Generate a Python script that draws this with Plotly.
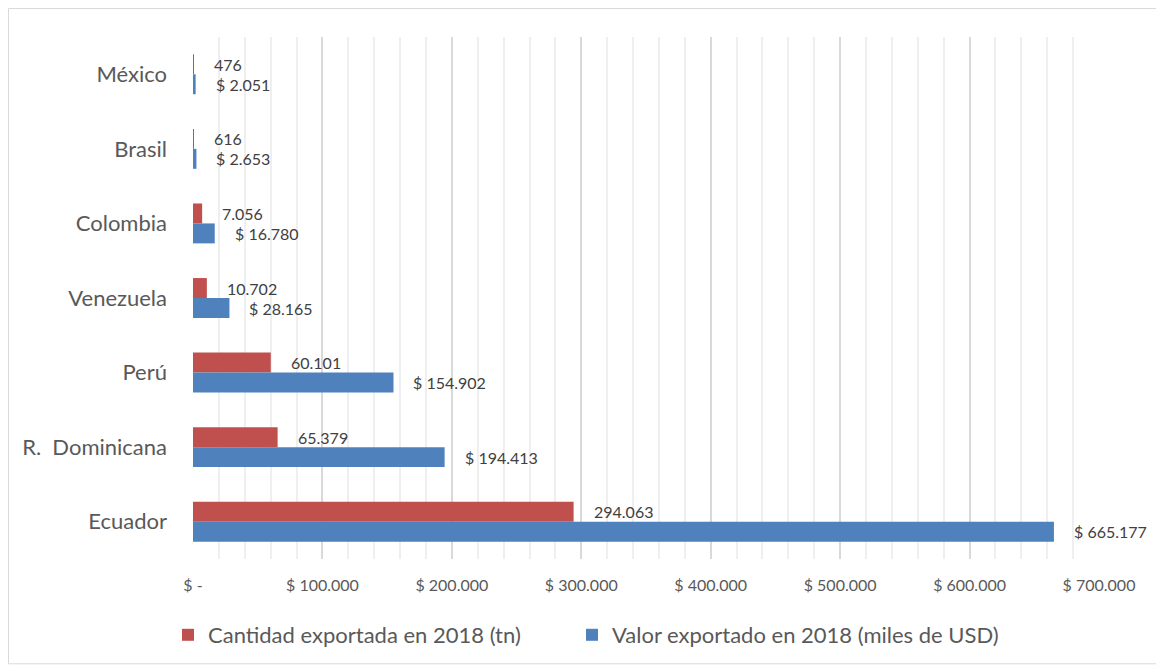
import plotly.graph_objects as go

categories = ["México", "Brasil", "Colombia", "Venezuela", "Perú", "R.  Dominicana", "Ecuador"]
cantidad_tn = [476, 616, 7056, 10702, 60101, 65379, 294063]
valor_usd = [2051, 2653, 16780, 28165, 154902, 194413, 665177]
tick_values = [0, 100000, 200000, 300000, 400000, 500000, 600000, 700000]
tick_labels = ["$ -", "$ 100.000", "$ 200.000", "$ 300.000", "$ 400.000",
               "$ 500.000", "$ 600.000", "$ 700.000"]
series_names = ["Cantidad exportada en 2018 (tn)", "Valor exportado en 2018 (miles de USD)"]

RED = "#C0504D"
BLUE = "#4F81BD"
FONT = "Lato, Open Sans, sans-serif"


def fmt(v):
    return f"{v:,}".replace(",", ".")


fig = go.Figure()
fig.add_trace(go.Bar(y=categories, x=cantidad_tn, orientation="h", name=series_names[0],
                     marker=dict(color=RED, line=dict(width=0)), legend="legend"))
fig.add_trace(go.Bar(y=categories, x=valor_usd, orientation="h", name=series_names[1],
                     marker=dict(color=BLUE, line=dict(width=0)), legend="legend2"))

annotations = []
for c, v in zip(categories, cantidad_tn):
    annotations.append(dict(x=v, y=c, xref="x", yref="y", text=fmt(v), showarrow=False,
                            xanchor="left", yanchor="middle", xshift=18, yshift=10,
                            font=dict(family=FONT, size=16, color="#404040")))
for c, v in zip(categories, valor_usd):
    annotations.append(dict(x=v, y=c, xref="x", yref="y", text="$ " + fmt(v), showarrow=False,
                            xanchor="left", yanchor="middle", xshift=18, yshift=-10,
                            font=dict(family=FONT, size=16, color="#404040")))

# page body has an 8px margin; figure coordinates below are local to the figure
W, H = 1156, 659
L, R, T, B = 185, 65, 29, 107
pw, ph = W - L - R, H - T - B


def px_x(x):
    return (x - L) / pw


def px_y(y):
    return 1 - (y - T) / ph


legend_common = dict(orientation="h", xanchor="left", yanchor="middle", y=px_y(627),
                     font=dict(family=FONT, size=22, color="#595959"),
                     itemwidth=30, bgcolor="rgba(0,0,0,0)")

fig.update_layout(
    width=W, height=H,
    margin=dict(l=L, r=R, t=T, b=B, pad=0),
    paper_bgcolor="white", plot_bgcolor="white",
    barmode="group", bargap=0.465, bargroupgap=0,
    font=dict(family=FONT, color="#595959"),
    showlegend=True,
    legend=dict(x=px_x(160), **legend_common),
    legend2=dict(x=px_x(564), **legend_common),
    annotations=annotations,
    shapes=[dict(type="rect", xref="paper", yref="paper",
                 x0=px_x(0.5), x1=px_x(1152), y0=px_y(657), y1=px_y(0.5),
                 line=dict(color="#d9d9d9", width=1), fillcolor="rgba(0,0,0,0)", layer="below")],
)

fig.update_xaxes(range=[0, 700000], tickvals=tick_values, ticktext=tick_labels,
                 showgrid=True, gridcolor="#d9d9d9", gridwidth=2,
                 zeroline=False, showline=False, ticks="",
                 ticklabelstandoff=15,
                 tickfont=dict(family=FONT, size=16, color="#595959"),
                 minor=dict(dtick=20000, tick0=0, showgrid=True, gridcolor="#efefef", gridwidth=2))
fig.update_yaxes(categoryorder="array", categoryarray=categories, autorange="reversed",
                 showgrid=False, zeroline=False, showline=False, ticks="",
                 ticklabelstandoff=25,
                 tickfont=dict(family=FONT, size=22, color="#595959"))

fig.write_html("out.html")
